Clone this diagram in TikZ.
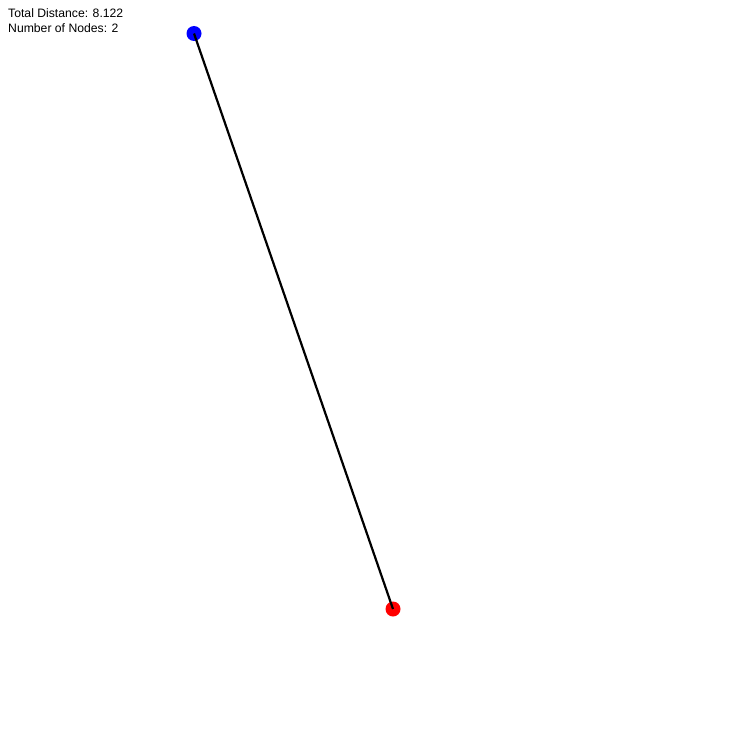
\documentclass[tikz,border=0pt]{standalone}
\usepackage{fontspec}
\setmainfont{Liberation Sans}
\begin{document}
\begin{tikzpicture}[x=1bp,y=-1bp,
  pt/.style={circle,inner sep=0pt,minimum size=15bp},
  lbl/.style={anchor=north west,inner sep=0pt,align=left,font=\fontsize{12.2bp}{14.5bp}\selectfont}]
\useasboundingbox[fill=white] (0,0) rectangle (747,747);
\node[pt,fill=blue] (a) at (194,33.5) {};
\node[pt,fill=red] (b) at (393,609) {};
\draw[line width=2.2bp,black] (a.center) -- (b.center);
\node[lbl] (t) at (8,8.5) {Total Distance: 8.122\\Number of Nodes: 2};
\end{tikzpicture}
\end{document}
